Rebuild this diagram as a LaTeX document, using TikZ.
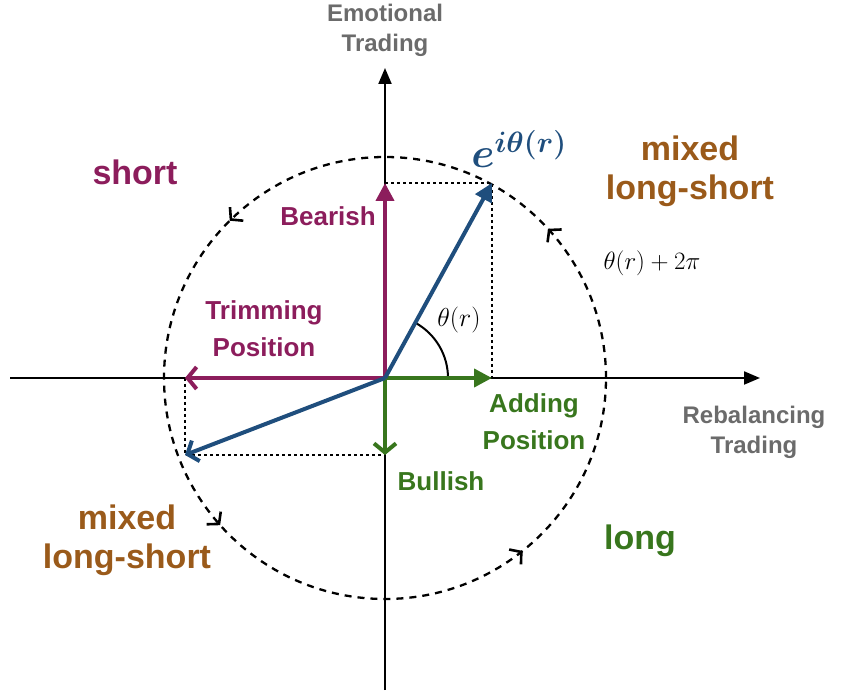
\RequirePackage{fix-cm}
\documentclass[tikz,border=0pt]{standalone}
\usepackage{fontspec}
\setmainfont{Liberation Sans}
\usetikzlibrary{arrows.meta,decorations.markings}
\definecolor{cmag}{HTML}{8C1D5C}
\definecolor{cblue}{HTML}{1F4E7D}
\definecolor{cgreen}{HTML}{38761D}
\definecolor{cbrown}{HTML}{9A5A1A}
\definecolor{cgray}{HTML}{6B6B6B}
\tikzset{
  axis/.style={line width=2pt,-{Triangle[length=16pt,width=13pt]}},
  vecfill/.style={line width=4pt,-{Triangle[length=18pt,width=18pt]}},
  vecopen/.style={line width=4pt,-{Straight Barb[length=9pt,width=22pt]}},
  guide/.style={line width=2.6pt,dash pattern=on 3pt off 3pt},
  graylbl/.style={font=\fontsize{24}{30}\selectfont\bfseries,align=center,inner sep=0pt,cgray},
  lbl/.style={font=\fontsize{26}{37}\selectfont\bfseries,align=center,inner sep=0pt},
  biglbl/.style={font=\fontsize{34}{39}\selectfont\bfseries,align=center,inner sep=0pt},
  circarrow/.style={solid,line width=2.6pt},
}
\begin{document}
\begin{tikzpicture}[x=1pt,y=1pt]
\useasboundingbox (0,0) rectangle (853,690);
\coordinate (O) at (385,312);
\coordinate (xl) at (10,312);
\coordinate (xr) at (760,312);
\coordinate (yb) at (385,0);
\coordinate (yt) at (385,622);
\coordinate (bu) at (492,507);
\coordinate (bl) at (185,235);
\coordinate (mu) at (385,507);
\coordinate (ml) at (185,312);
\coordinate (gr) at (492,312);
\coordinate (gd) at (385,235);
% dashed circle with arrows
\draw[line width=2.3pt,dash pattern=on 7pt off 6pt,
  postaction={decorate},
  decoration={markings,
    mark=at position 0.118 with {\arrow[circarrow]{Straight Barb[length=8pt,width=19pt]}},
    mark=at position 0.374 with {\arrow[circarrow]{Straight Barb[length=8pt,width=19pt]}},
    mark=at position 0.616 with {\arrow[circarrow]{Straight Barb[length=8pt,width=19pt]}},
    mark=at position 0.857 with {\arrow[circarrow]{Straight Barb[length=8pt,width=19pt]}}}]
  (O) circle[radius=221];
% axes
\draw[axis] (xl) -- (xr);
\draw[axis] (yb) -- (yt);
% guides
\draw[guide] (mu) -- (bu) -- (gr);
\draw[guide] (ml) -- (bl) -- (gd);
% angle arc
\draw[line width=2pt] ([shift={(0:63)}]O) arc[start angle=0,end angle=61,radius=63];
% vectors
\draw[vecfill,cgreen] (O) -- (gr);
\draw[vecopen,cgreen] (O) -- (gd);
\draw[vecfill,cmag] (O) -- (mu);
\draw[vecopen,cmag] (O) -- (ml);
\draw[vecfill,cblue] (O) -- (bu);
\draw[vecopen,cblue] (O) -- (bl);
% labels
\node[graylbl] (emo) at (385,660) {Emotional\\Trading};
\node[graylbl] (reb) at (754,258) {Rebalancing\\Trading};
\node[biglbl,cmag] (short) at (135,518) {short};
\node[biglbl,cbrown] (mix1) at (690,519) {mixed\\long-short};
\node[biglbl,cbrown] (mix2) at (127,150) {mixed\\long-short};
\node[biglbl,cgreen] (long) at (640,149) {long};
\node[lbl,cmag,anchor=east] (bear) at (376,474) {Bearish};
\node[lbl,cmag] (trim) at (264,361) {Trimming\\Position};
\node[lbl,cgreen] (add) at (534,268) {Adding\\Position};
\node[lbl,cgreen] (bull) at (441,209) {Bullish};
\node[inner sep=0pt,cblue,font=\fontsize{42}{50}\selectfont\boldmath] (eith) at (519,541) {$e^{i\theta(r)}$};
\node[inner sep=0pt,font=\fontsize{25}{30}\selectfont] (tp) at (652,427) {$\theta(r)+2\pi$};
\node[inner sep=0pt,font=\fontsize{26}{30}\selectfont] (th) at (459,370) {$\theta(r)$};
\end{tikzpicture}
\end{document}
